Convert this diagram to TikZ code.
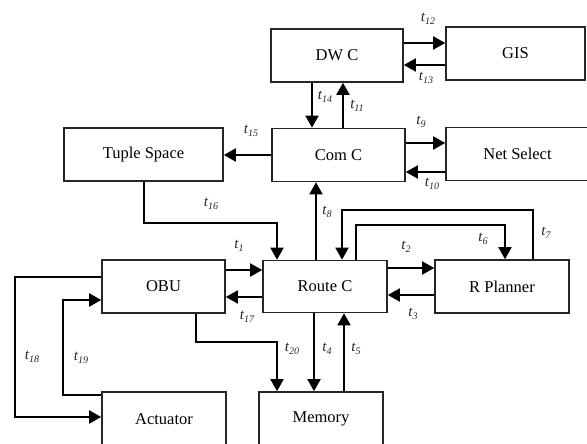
\documentclass[tikz,border=0pt]{standalone}
\usepackage{fontspec}
\setmainfont{Liberation Serif}
\usetikzlibrary{arrows.meta,calc}
\newcommand{\tl}[1]{t\raisebox{-2.5pt}{\fontsize{10}{11}\selectfont #1}}
\begin{document}
\begin{tikzpicture}[x=1pt,y=-1pt,
  box/.style={draw=black!85,line width=1.6pt,minimum height=53pt,inner sep=0pt,font=\fontsize{16.5}{18}\selectfont},
  arr/.style={line width=1.9pt,-{Triangle[length=12pt,width=13pt]}},
  lab/.style={font=\fontsize{15}{16}\selectfont\itshape,inner sep=0pt,text=black!85}]
\useasboundingbox (0,0) rectangle (587,444);
% boxes
\node[box,minimum width=132pt] (dwc) at (337,55.5) {DW C};
\node[box,minimum width=139pt] (gis) at (515.5,53.5) {GIS};
\node[box,minimum width=159pt] (tuple) at (143.5,154.5) {Tuple Space};
\node[box,minimum width=133pt] (comc) at (338.5,155) {Com C};
\node[box,minimum width=143pt] (net) at (517.5,154) {Net Select};
\node[box,minimum width=123pt] (obu) at (163.5,286.5) {OBU};
\node[box,minimum width=124pt,minimum height=52pt] (route) at (325,286.5) {Route C};
\node[box,minimum width=134pt] (rplan) at (502,286.5) {R Planner};
\node[box,minimum width=124pt,minimum height=54pt] (act) at (164,419) {Actuator};
\node[box,minimum width=124pt,minimum height=54pt] (mem) at (321,419) {Memory};
% coordinates for bends
\coordinate (b16a) at (144,223);
\coordinate (b16b) at (277,223);
\coordinate (b7a) at (533,210);
\coordinate (b7b) at (342,210);
\coordinate (b6a) at (356,225);
\coordinate (b6b) at (505,225);
\coordinate (b20a) at (196,342);
\coordinate (b20b) at (277,342);
\coordinate (b18a) at (15,277);
\coordinate (b18b) at (15,417);
\coordinate (b19a) at (63,395);
\coordinate (b19b) at (63,300);
% DWC <-> GIS
\draw[arr] (dwc.east |- 0,43) -- (gis.west |- 0,43);
\draw[arr] (gis.west |- 0,65) -- (dwc.east |- 0,65);
% DWC <-> ComC
\draw[arr] (dwc.south -| 312,0) -- (comc.north -| 312,0);
\draw[arr] (comc.north -| 343,0) -- (dwc.south -| 343,0);
% ComC -> Tuple
\draw[arr] (comc.west |- 0,155) -- (tuple.east |- 0,155);
% ComC <-> Net
\draw[arr] (comc.east |- 0,143) -- (net.west |- 0,143);
\draw[arr] (net.west |- 0,172) -- (comc.east |- 0,172);
% Tuple -> Route
\draw[arr] (tuple.south -| b16a) -- (b16a) -- (b16b) -- (route.north -| b16b);
% Route -> ComC
\draw[arr] (route.north -| 316,0) -- (comc.south -| 316,0);
% t7: RPlanner -> Route
\draw[arr] (rplan.north -| b7a) -- (b7a) -- (b7b) -- (route.north -| b7b);
% t6: Route -> RPlanner
\draw[arr] (route.north -| b6a) -- (b6a) -- (b6b) -- (rplan.north -| b6b);
% OBU <-> Route
\draw[arr] (obu.east |- 0,270) -- (route.west |- 0,270);
\draw[arr] (route.west |- 0,297) -- (obu.east |- 0,297);
% Route <-> RPlanner
\draw[arr] (route.east |- 0,268) -- (rplan.west |- 0,268);
\draw[arr] (rplan.west |- 0,295) -- (route.east |- 0,295);
% Route <-> Memory
\draw[arr] (route.south -| 314,0) -- (mem.north -| 314,0);
\draw[arr] (mem.north -| 344,0) -- (route.south -| 344,0);
% OBU -> Memory
\draw[arr] (obu.south -| b20a) -- (b20a) -- (b20b) -- (mem.north -| b20b);
% OBU -> Actuator
\draw[arr] (obu.west |- b18a) -- (b18a) -- (b18b) -- (act.west |- b18b);
% Actuator -> OBU
\draw[arr] (act.west |- b19a) -- (b19a) -- (b19b) -- (obu.west |- b19b);
% labels
\node[lab] (l12) at (428,19) {\tl{12}};
\node[lab] (l13) at (426,78) {\tl{13}};
\node[lab] (l14) at (325,97) {\tl{14}};
\node[lab] (l11) at (357,106) {\tl{11}};
\node[lab] (l15) at (251,131) {\tl{15}};
\node[lab] (l9) at (421,122) {\tl{9}};
\node[lab] (l10) at (432,184) {\tl{10}};
\node[lab] (l16) at (211,204) {\tl{16}};
\node[lab] (l8) at (327,212) {\tl{8}};
\node[lab] (l6) at (483,239) {\tl{6}};
\node[lab] (l7) at (546,233) {\tl{7}};
\node[lab] (l2) at (406,247) {\tl{2}};
\node[lab] (l1) at (239,246) {\tl{1}};
\node[lab] (l17) at (247,317) {\tl{17}};
\node[lab] (l3) at (413,314) {\tl{3}};
\node[lab] (l20) at (292,349) {\tl{20}};
\node[lab] (l4) at (327,349) {\tl{4}};
\node[lab] (l5) at (356,349) {\tl{5}};
\node[lab] (l18) at (32,357) {\tl{18}};
\node[lab] (l19) at (81,358) {\tl{19}};
\end{tikzpicture}
\end{document}
